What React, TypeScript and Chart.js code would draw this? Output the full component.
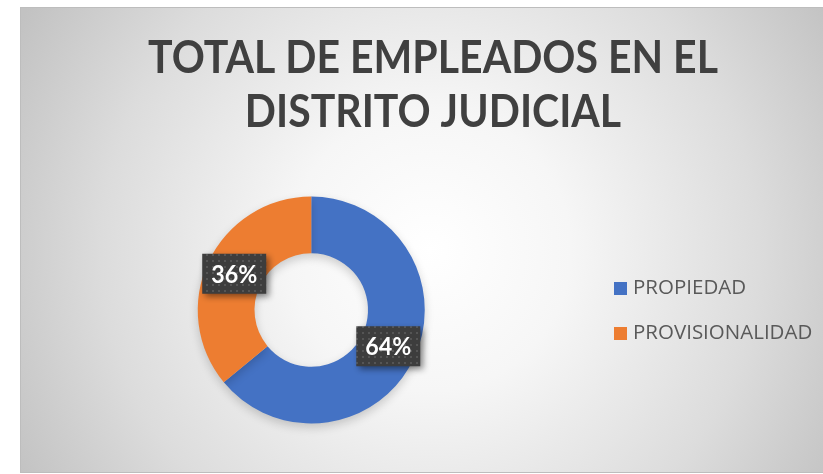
import React, { useEffect, useRef } from 'react';
import { Chart, registerables } from 'chart.js';

Chart.register(...registerables);

const categories = ['PROPIEDAD', 'PROVISIONALIDAD'];
const values = [64, 36];
const colors = ['#4472C4', '#ED7D31'];
const titleLines = ['TOTAL DE EMPLEADOS EN EL', 'DISTRITO JUDICIAL'];

const W = 823;
const H = 474;

function makePattern(ctx: CanvasRenderingContext2D) {
  const c = document.createElement('canvas');
  c.width = 6;
  c.height = 6;
  const p = c.getContext('2d')!;
  p.fillStyle = '#3d3d3d';
  p.fillRect(0, 0, 6, 6);
  p.fillStyle = '#555555';
  p.fillRect(2, 2, 2, 2);
  return ctx.createPattern(c, 'repeat');
}

const backgroundPlugin = {
  id: 'bgPlugin',
  beforeDraw(chart: any) {
    const ctx = chart.ctx as CanvasRenderingContext2D;
    ctx.save();
    ctx.fillStyle = '#ffffff';
    ctx.fillRect(0, 0, W, H);
    const x0 = 20, y0 = 7, x1 = 830, y1 = 472;
    const g = ctx.createRadialGradient(430, 250, 0, 430, 250, 470);
    g.addColorStop(0, '#ffffff');
    g.addColorStop(0.3, '#f6f6f6');
    g.addColorStop(0.7, '#dcdcdc');
    g.addColorStop(1, '#c2c2c2');
    ctx.fillStyle = g;
    ctx.fillRect(x0, y0, x1 - x0, y1 - y0);
    ctx.strokeStyle = '#bdbdbd';
    ctx.lineWidth = 1;
    ctx.strokeRect(x0 + 0.5, y0 + 0.5, x1 - x0, y1 - y0);
    // title
    ctx.fillStyle = '#404040';
    ctx.textAlign = 'center';
    ctx.textBaseline = 'alphabetic';
    ctx.font = 'bold 46px Lato, "Open Sans", sans-serif';
    const targetW = 570;
    const baselines = [73, 127];
    const w0 = ctx.measureText(titleLines[0]).width;
    const sx = Math.min(1.1, targetW / w0);
    titleLines.forEach((line, i) => {
      ctx.save();
      ctx.translate(433, baselines[i]);
      ctx.scale(sx, 1);
      ctx.fillText(line, 0, 0);
      ctx.restore();
    });
    // legend
    ctx.font = '20.5px "Open Sans", sans-serif';
    ctx.textAlign = 'left';
    ctx.textBaseline = 'middle';
    categories.forEach((cat, i) => {
      const cy = 288.5 + i * 45;
      ctx.fillStyle = colors[i];
      ctx.fillRect(614, cy - 6.5, 13, 13);
      ctx.fillStyle = '#595959';
      ctx.fillText(cat, 633, cy);
    });
    ctx.restore();
  },
  beforeDatasetsDraw(chart: any) {
    const ctx = chart.ctx as CanvasRenderingContext2D;
    ctx.save();
    ctx.shadowColor = 'rgba(0,0,0,0.18)';
    ctx.shadowBlur = 10;
    ctx.shadowOffsetY = 4;
  },
  afterDatasetsDraw(chart: any) {
    const ctx = chart.ctx as CanvasRenderingContext2D;
    ctx.restore();
    const meta = chart.getDatasetMeta(0);
    const pattern = makePattern(ctx);
    meta.data.forEach((arc: any, i: number) => {
      const { x, y } = arc.tooltipPosition(false);
      const bw = 64, bh = 40;
      ctx.save();
      ctx.shadowColor = 'rgba(0,0,0,0.45)';
      ctx.shadowBlur = 6;
      ctx.shadowOffsetX = 3;
      ctx.shadowOffsetY = 3;
      ctx.fillStyle = pattern || '#404040';
      ctx.fillRect(x - bw / 2, y - bh / 2, bw, bh);
      ctx.restore();
      ctx.save();
      ctx.fillStyle = '#ffffff';
      ctx.font = 'bold 25px Lato, "Open Sans", sans-serif';
      ctx.textAlign = 'center';
      ctx.textBaseline = 'middle';
      const txt = `${values[i]}%`;
      const tw = ctx.measureText(txt).width;
      const s = Math.min(1.1, 46 / tw);
      ctx.translate(x, y + 1);
      ctx.scale(s, 1);
      ctx.fillText(txt, 0, 0);
      ctx.restore();
    });
  },
};

export default function App() {
  const ref = useRef<HTMLCanvasElement | null>(null);
  useEffect(() => {
    if (!ref.current) return;
    const chart = new Chart(ref.current, {
      type: 'doughnut',
      data: {
        labels: categories,
        datasets: [
          {
            data: values,
            backgroundColor: colors,
            borderWidth: 0,
          },
        ],
      },
      options: {
        responsive: false,
        animation: false,
        devicePixelRatio: 1,
        cutout: '50%',
        layout: {
          padding: { left: 197.5, right: 398, top: 196.5, bottom: 50.5 },
        },
        plugins: {
          legend: { display: false },
          title: { display: false },
          tooltip: { enabled: false },
        },
      },
      plugins: [backgroundPlugin],
    });
    return () => chart.destroy();
  }, []);
  return (
    <div style={{ position: 'absolute', left: 0, top: 0, width: W, height: H }}>
      <canvas ref={ref} width={W} height={H} style={{ display: 'block', width: W, height: H }} />
    </div>
  );
}
